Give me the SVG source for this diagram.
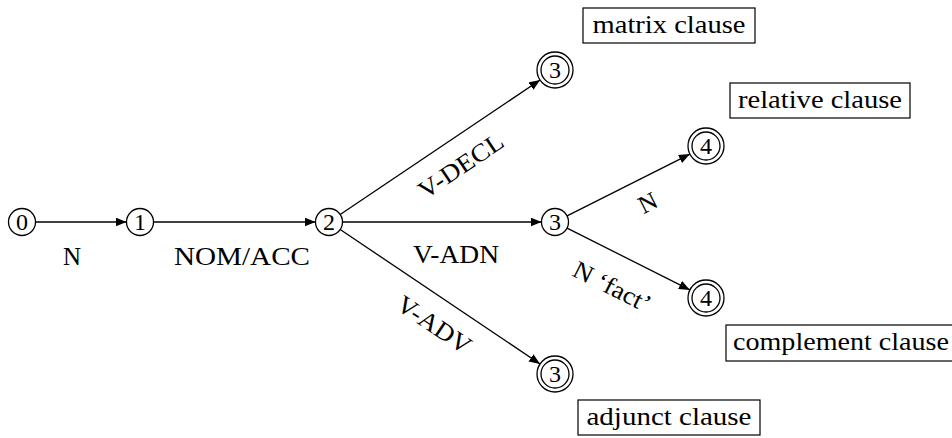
<svg xmlns="http://www.w3.org/2000/svg" width="952" height="438" viewBox="0 0 952 438">
<defs>
<marker id="arr" markerWidth="12" markerHeight="10" refX="11" refY="4.5" orient="auto" markerUnits="userSpaceOnUse">
<path d="M0,0 L11,4.5 L0,9 z" fill="#000"/>
</marker>
<style>
.n{fill:#fff;stroke:#000;stroke-width:1.3}
.d{font-family:"Liberation Serif",serif;font-size:24px;text-anchor:middle;fill:#000}
.e{stroke:#000;stroke-width:1.3;fill:none;marker-end:url(#arr)}
.l{font-family:"Liberation Serif",serif;font-size:25px;text-anchor:middle;fill:#000}
.b{fill:#fff;stroke:#000;stroke-width:1.2}
</style>
</defs>
<rect width="952" height="438" fill="#fff"/>
<g id="edges">
<line class="e" x1="35.5" y1="222" x2="126.5" y2="222"/>
<line class="e" x1="153.5" y1="222" x2="315.5" y2="222"/>
<line class="e" x1="342.5" y1="222" x2="541.5" y2="222"/>
<line class="e" x1="340.2" y1="214.5" x2="540.1" y2="80.0"/>
<line class="e" x1="340.2" y1="229.5" x2="540.1" y2="364.0"/>
<line class="e" x1="567.1" y1="215.9" x2="689.9" y2="154.1"/>
<line class="e" x1="567.1" y1="228.1" x2="689.9" y2="289.9"/>
</g>
<g id="edge-labels">
<text class="l" x="72" y="265">N</text>
<text class="l" x="242" y="265" textLength="136" lengthAdjust="spacingAndGlyphs">NOM/ACC</text>
<text class="l" x="456" y="263" textLength="86" lengthAdjust="spacingAndGlyphs">V-ADN</text>
<text class="l" transform="translate(461,166) rotate(-33.9)" y="8" textLength="97" lengthAdjust="spacingAndGlyphs">V-DECL</text>
<text class="l" transform="translate(434,325) rotate(33.9)" y="8" textLength="84" lengthAdjust="spacingAndGlyphs">V-ADV</text>
<text class="l" transform="translate(648,203) rotate(-26.7)" y="8">N</text>
<text class="l" transform="translate(612,287) rotate(26.7)" y="8" textLength="84" lengthAdjust="spacingAndGlyphs">N ‘fact’</text>
</g>
<g id="q0"><circle class="n" cx="22" cy="222" r="13.5"/><text class="d" x="22" y="230">0</text></g>
<g id="q1"><circle class="n" cx="140" cy="222" r="13.5"/><text class="d" x="140" y="230">1</text></g>
<g id="q2"><circle class="n" cx="329" cy="222" r="13.5"/><text class="d" x="329" y="230">2</text></g>
<g id="q3"><circle class="n" cx="555" cy="222" r="13.5"/><text class="d" x="555" y="230">3</text></g>
<g id="q3-matrix"><circle class="n" cx="555" cy="70" r="18"/><circle class="n" cx="555" cy="70" r="14"/><text class="d" x="555" y="78">3</text></g>
<g id="q4-relative"><circle class="n" cx="706" cy="146" r="18"/><circle class="n" cx="706" cy="146" r="14"/><text class="d" x="706" y="154">4</text></g>
<g id="q4-complement"><circle class="n" cx="706" cy="298" r="18"/><circle class="n" cx="706" cy="298" r="14"/><text class="d" x="706" y="306">4</text></g>
<g id="q3-adjunct"><circle class="n" cx="555" cy="374" r="18"/><circle class="n" cx="555" cy="374" r="14"/><text class="d" x="555" y="382">3</text></g>
<g id="box-matrix"><rect class="b" x="583" y="8" width="172" height="35"/><text class="l" x="669" y="33" textLength="153" lengthAdjust="spacingAndGlyphs">matrix clause</text></g>
<g id="box-relative"><rect class="b" x="730" y="83" width="180" height="35"/><text class="l" x="820" y="108" textLength="164" lengthAdjust="spacingAndGlyphs">relative clause</text></g>
<g id="box-complement"><rect class="b" x="726" y="325" width="232" height="36"/><text class="l" x="733" y="350" style="text-anchor:start" textLength="216" lengthAdjust="spacingAndGlyphs">complement clause</text></g>
<g id="box-adjunct"><rect class="b" x="578" y="400" width="182" height="35"/><text class="l" x="669" y="425" textLength="165" lengthAdjust="spacingAndGlyphs">adjunct clause</text></g>
</svg>
